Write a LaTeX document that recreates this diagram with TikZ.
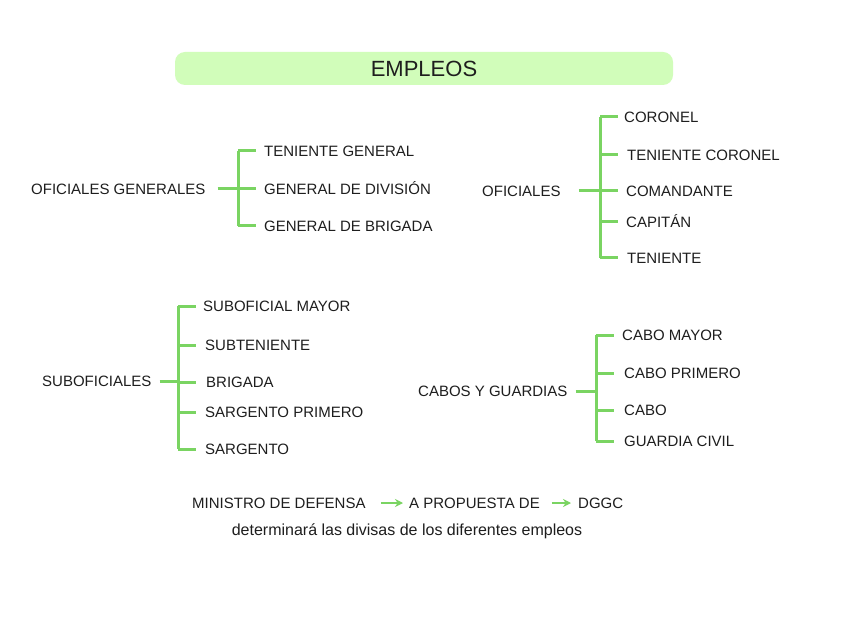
\documentclass[tikz,border=0pt]{standalone}
\usepackage{fontspec}
\setmainfont{Liberation Sans}
\usetikzlibrary{arrows.meta}
\definecolor{brgreen}{RGB}{122,212,98}
\definecolor{titlefill}{RGB}{209,253,186}
\definecolor{txt}{RGB}{30,30,30}
\tikzset{
  lbl/.style={anchor=west,inner sep=0pt,text height=10.6pt,text depth=0pt,font=\fontsize{15}{18}\selectfont,text=txt},
  br/.style={draw=brgreen,line width=3pt},
  arr/.style={draw=brgreen,line width=2.4pt,-{Stealth[length=8pt,width=8pt]}},
}
\begin{document}
\begin{tikzpicture}[x=1pt,y=-1pt]
\useasboundingbox (0,0) rectangle (848,636);
\fill[white] (0,0) rectangle (848,636);
% title
\node[fill=titlefill,rounded corners=10pt,minimum width=498pt,minimum height=33pt,inner sep=0pt,
  font=\fontsize{22}{24}\selectfont,text=txt] (title) at (424,68.5) {EMPLEOS};
% group 1
\node[lbl] (og) at (31,189) {OFICIALES GENERALES};
\node[lbl] (og1) at (264,151) {TENIENTE GENERAL};
\node[lbl] (og2) at (264,189) {GENERAL DE DIVISIÓN};
\node[lbl] (og3) at (264,226) {GENERAL DE BRIGADA};
\coordinate (j1) at (238,189);
\draw[br] ([xshift=12pt]og.east) -- (j1);
\draw[br] (j1|-og1.west) -- (j1|-og3.west);
\foreach \c in {og1,og2,og3} \draw[br] (j1|-\c.west) -- ++(18,0);
% group 2
\node[lbl] (of) at (482,191) {OFICIALES};
\node[lbl] (of1) at (624,117) {CORONEL};
\node[lbl] (of2) at (627,155) {TENIENTE CORONEL};
\node[lbl] (of3) at (626,191) {COMANDANTE};
\node[lbl] (of4) at (626,222) {CAPITÁN};
\node[lbl] (of5) at (627,258) {TENIENTE};
\coordinate (j2) at (600,191);
\draw[br] ([xshift=18pt]of.east) -- (j2);
\draw[br] (j2|-of1.west) -- (j2|-of5.west);
\foreach \c in {of1,of2,of3,of4,of5} \draw[br] (j2|-\c.west) -- ++(18,0);
% group 3
\node[lbl] (so) at (42,381) {SUBOFICIALES};
\node[lbl] (so1) at (203,306) {SUBOFICIAL MAYOR};
\node[lbl] (so2) at (205,345) {SUBTENIENTE};
\node[lbl] (so3) at (206,382) {BRIGADA};
\node[lbl] (so4) at (205,412) {SARGENTO PRIMERO};
\node[lbl] (so5) at (205,449) {SARGENTO};
\coordinate (j3) at (178,381);
\draw[br] ([xshift=8pt]so.east) -- (j3);
\draw[br] (j3|-so1.west) -- (j3|-so5.west);
\foreach \c in {so1,so2,so3,so4,so5} \draw[br] (j3|-\c.west) -- ++(18,0);
% group 4
\node[lbl] (cg) at (418,391) {CABOS Y GUARDIAS};
\node[lbl] (cg1) at (622,335) {CABO MAYOR};
\node[lbl] (cg2) at (624,373) {CABO PRIMERO};
\node[lbl] (cg3) at (624,410) {CABO};
\node[lbl] (cg4) at (624,441) {GUARDIA CIVIL};
\coordinate (j4) at (596,391);
\draw[br] ([xshift=8pt]cg.east) -- (j4);
\draw[br] (j4|-cg1.west) -- (j4|-cg4.west);
\foreach \c in {cg1,cg2,cg3,cg4} \draw[br] (j4|-\c.west) -- ++(18,0);
% bottom
\node[lbl] (m1) at (192,503) {MINISTRO DE DEFENSA};
\node[lbl] (m2) at (409,503) {A PROPUESTA DE};
\node[lbl] (m3) at (578,503) {DGGC};
\draw[arr] ([xshift=15pt]m1.east) -- ([xshift=-6pt]m2.west);
\draw[arr] ([xshift=12pt]m2.east) -- ([xshift=-7pt]m3.west);
\node[inner sep=0pt,font=\fontsize{16}{19}\selectfont,text=txt,anchor=base] (m4) at (407,535) {determinará las divisas de los diferentes empleos};
\end{tikzpicture}
\end{document}
